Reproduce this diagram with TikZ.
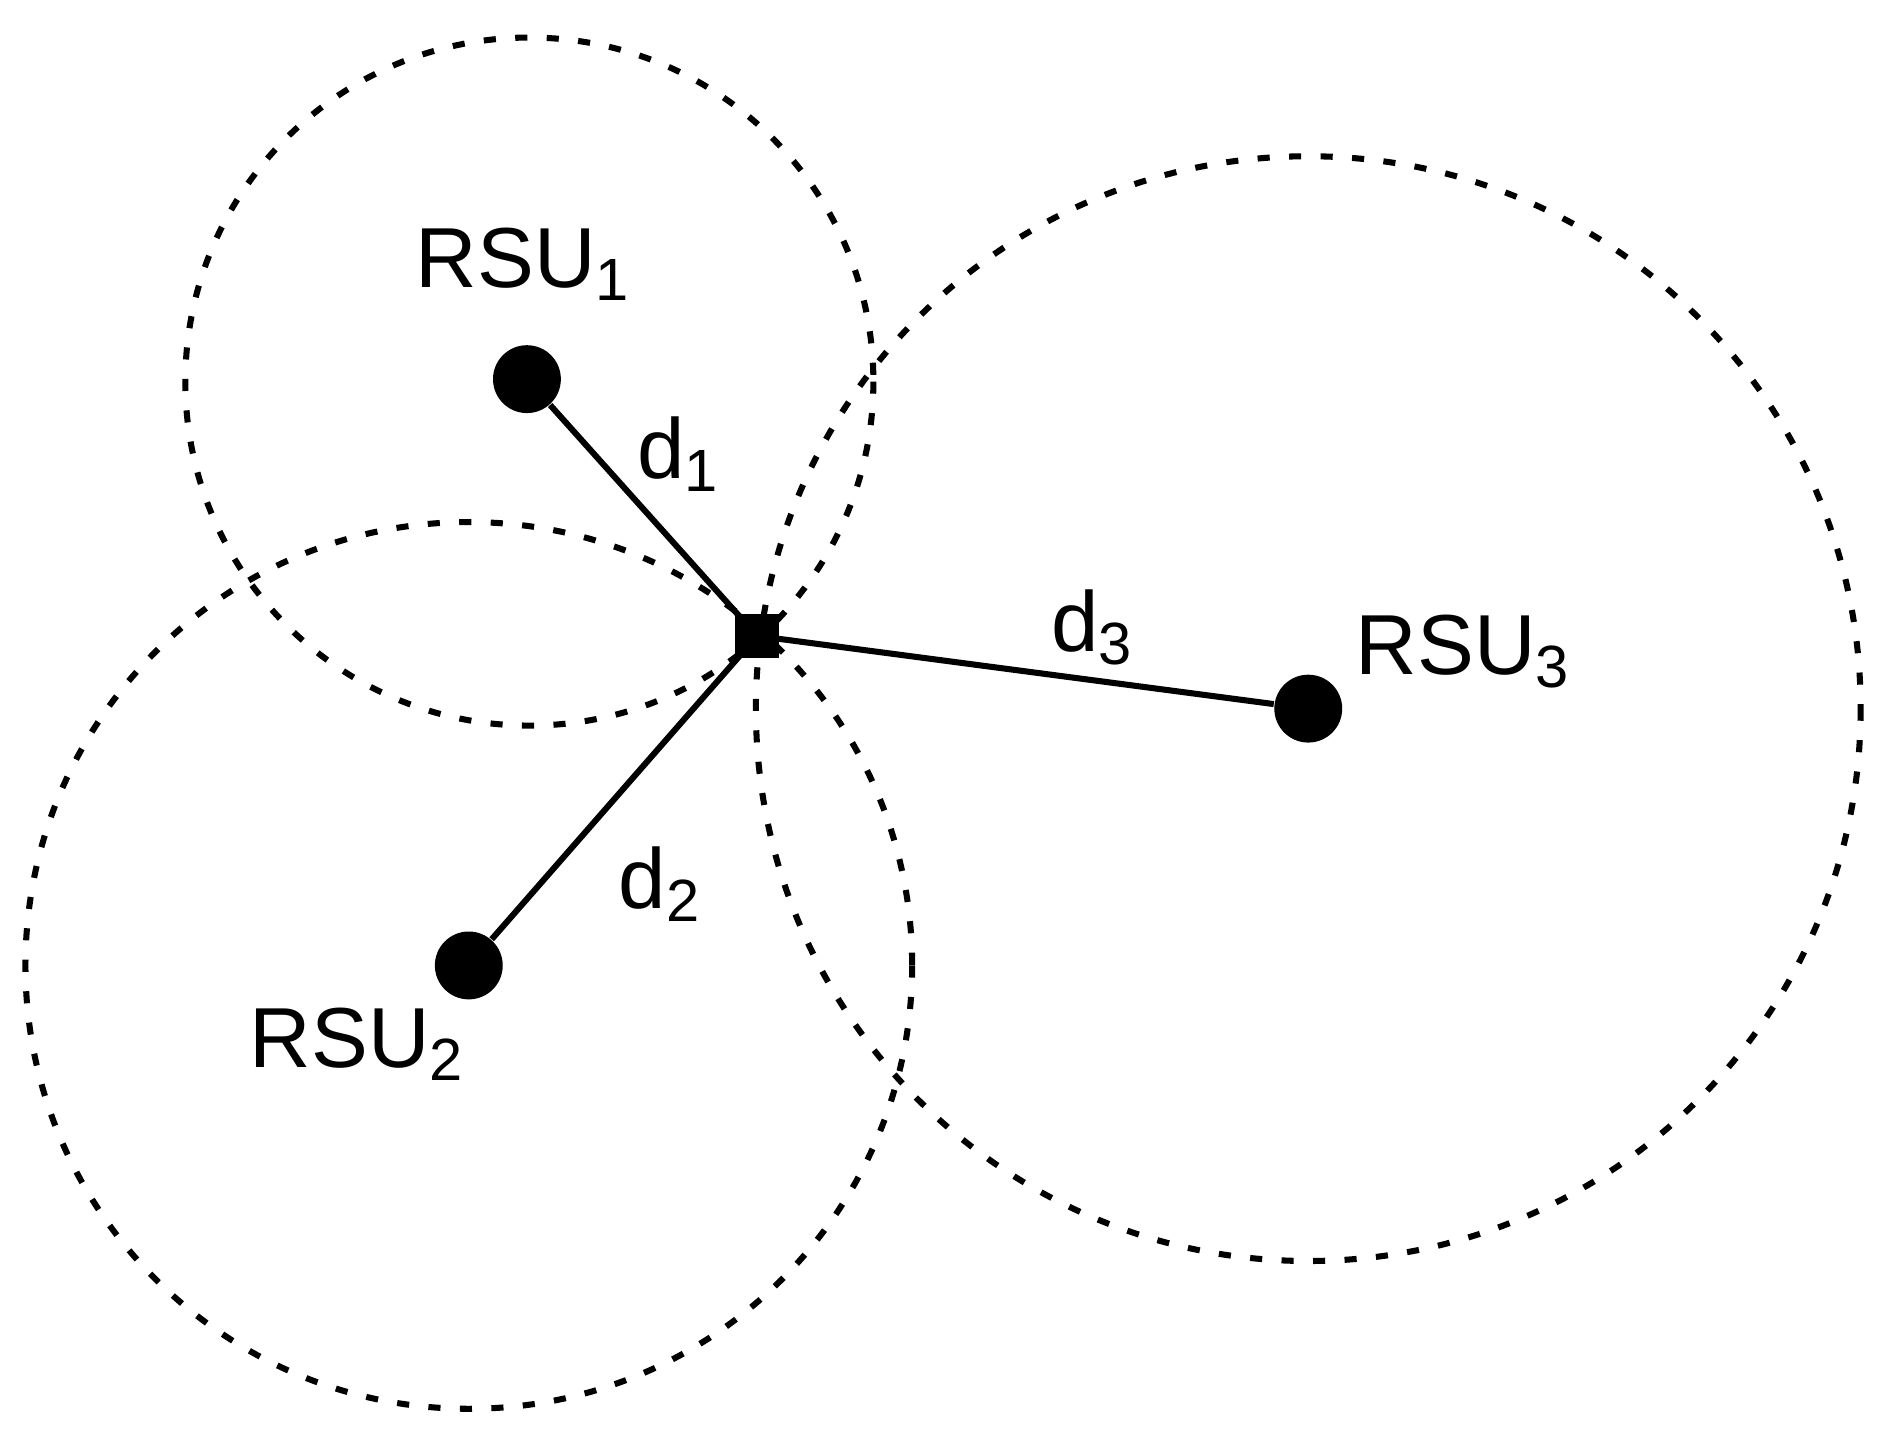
\documentclass[tikz,border=0pt]{standalone}
\usepackage{fontspec}
\setmainfont{Liberation Sans}
\begin{document}
\begin{tikzpicture}[x=0.01cm,y=-0.01cm,
  rsu/.style={circle,fill=black,inner sep=0,minimum size=0.56cm},
  rangecirc/.style={line width=0.05cm,dash pattern=on 0.1cm off 0.16cm},
  link/.style={line width=0.05cm},
  lab/.style={font=\fontsize{20}{24}\selectfont,inner sep=0}]
\useasboundingbox (0,0) rectangle (1552,1180);
\draw[rangecirc] (437,315) circle (284);
\draw[rangecirc] (387,797) circle (366);
\draw[rangecirc] (1080,585) circle (456);
\node[rsu] (r1) at (435,313) {};
\node[rsu] (r2) at (387,797) {};
\node[rsu] (r3) at (1080,585) {};
\node[fill=black,inner sep=0,minimum size=0.36cm] (v) at (625,525) {};
\draw[link] (v.center) -- (r1);
\draw[link] (v.center) -- (r2);
\draw[link] (v.center) -- (r3);
\node[lab] (l1) at (432,218) {RSU$_{\mathrm{1}}$};
\node[lab] (l2) at (295,862) {RSU$_{\mathrm{2}}$};
\node[lab] (l3) at (1208,538) {RSU$_{\mathrm{3}}$};
\node[lab] (d1) at (560,375) {d$_{\mathrm{1}}$};
\node[lab] (d2) at (545,730) {d$_{\mathrm{2}}$};
\node[lab] (d3) at (902,518) {d$_{\mathrm{3}}$};
\end{tikzpicture}
\end{document}
